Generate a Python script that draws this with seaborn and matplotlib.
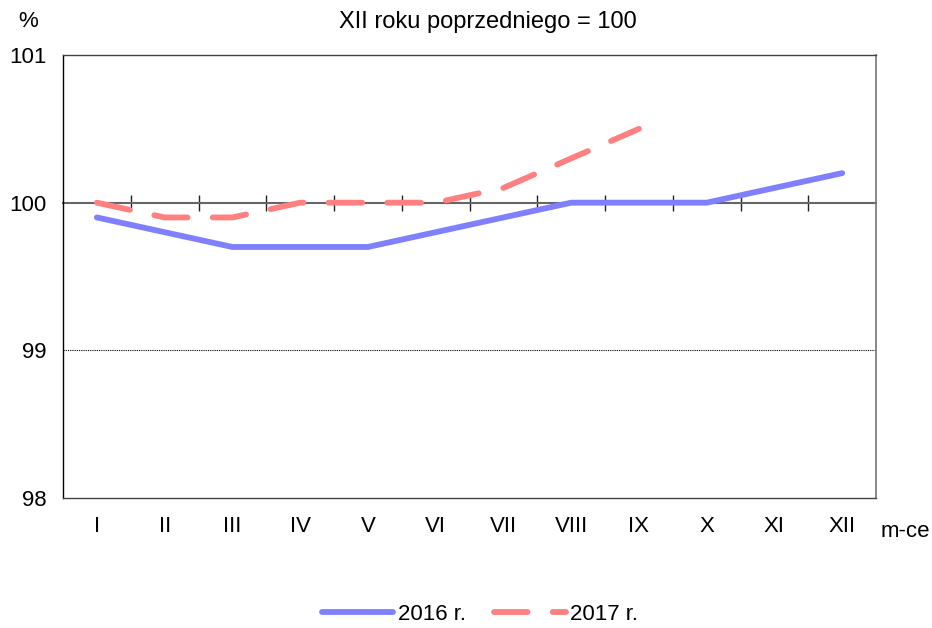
import pandas as pd
import matplotlib.pyplot as plt
import seaborn as sns

sns.set_style("white")
plt.rcParams['font.family'] = ['Liberation Sans', 'DejaVu Sans']
plt.rcParams['text.color'] = 'black'
plt.rcParams['xtick.color'] = 'black'
plt.rcParams['ytick.color'] = 'black'

# Data
months = ['I', 'II', 'III', 'IV', 'V', 'VI', 'VII', 'VIII', 'IX', 'X', 'XI', 'XII']
values_2016 = [99.9, 99.8, 99.7, 99.7, 99.7, 99.8, 99.9, 100.0, 100.0, 100.0, 100.1, 100.2]
values_2017 = [100.0, 99.9, 99.9, 100.0, 100.0, 100.0, 100.1, 100.3, 100.5]
series_names = ['2016 r.', '2017 r.']

df = pd.concat([
    pd.DataFrame({'pos': range(len(values_2016)), 'value': values_2016, 'series': series_names[0]}),
    pd.DataFrame({'pos': range(len(values_2017)), 'value': values_2017, 'series': series_names[1]}),
])

FS = 16

fig, ax = plt.subplots(figsize=(9.32, 6.28), dpi=100)
fig.subplots_adjust(left=0.0676, right=0.94, top=0.9124, bottom=0.207)

palette = {'2016 r.': '#8080FF', '2017 r.': '#FF8080'}
sns.lineplot(data=df, x='pos', y='value', hue='series', palette=palette,
             ax=ax, linewidth=4.2, legend=False)
lines = ax.get_lines()
for ln in lines:
    ln.set_solid_capstyle('round')
    ln.set_dash_capstyle('round')
# dash pattern chosen so the 2017 line ends on a dash, as in the source
lines[1].set_dashes((5.75, 4.32))

ax.set_xlim(-0.5, len(months) - 0.5)
ax.set_ylim(98, 101)
ax.set_yticks([98, 99, 100, 101])
ax.set_yticklabels(['98', '99', '100', '101'], fontsize=FS)
ax.set_xticks(range(len(months)))
ax.set_xticklabels(months, fontsize=FS)
ax.tick_params(axis='x', length=0, pad=13)
ax.tick_params(axis='y', length=7, width=1, color='black', pad=5)
ax.set_xlabel('')
ax.set_ylabel('')

ax.axhline(99, color='black', linewidth=0.8, linestyle=(0, (1, 1)))
for side in ['top', 'bottom']:
    ax.spines[side].set_color('#444444')
    ax.spines[side].set_linewidth(1.0)
ax.spines['left'].set_color('black')
ax.spines['left'].set_linewidth(1.0)
ax.spines['right'].set_color('#777777')
ax.spines['right'].set_linewidth(1.2)

# 100 line with boundary ticks
ax2 = ax.twiny()
ax2.set_xlim(ax.get_xlim())
for side in ['top', 'left', 'right']:
    ax2.spines[side].set_visible(False)
ax2.spines['bottom'].set_position(('data', 100))
ax2.spines['bottom'].set_color('#666666')
ax2.spines['bottom'].set_linewidth(1.5)
ax2.xaxis.set_ticks_position('bottom')
ax2.set_xticks([i + 0.5 for i in range(len(months) - 1)])
ax2.set_xticklabels([])
ax2.tick_params(axis='x', direction='inout', length=12, width=1, color='#222222')
ax2.set_zorder(ax.get_zorder() - 1)
ax.patch.set_visible(False)

fig.text(0.523, 0.965, 'XII roku poprzedniego = 100', ha='center', va='center', fontsize=17)
fig.text(0.030, 0.965, '%', ha='center', va='center', fontsize=FS)
fig.text(0.971, 0.153, 'm-ce', ha='center', va='center', fontsize=FS)

fig.legend(lines, series_names, loc='center', bbox_to_anchor=(0.515, 0.022), ncol=2,
           frameon=False, fontsize=FS, handlelength=3.2, handletextpad=0.2,
           columnspacing=1.3)

fig.savefig('out.png', dpi=100)
